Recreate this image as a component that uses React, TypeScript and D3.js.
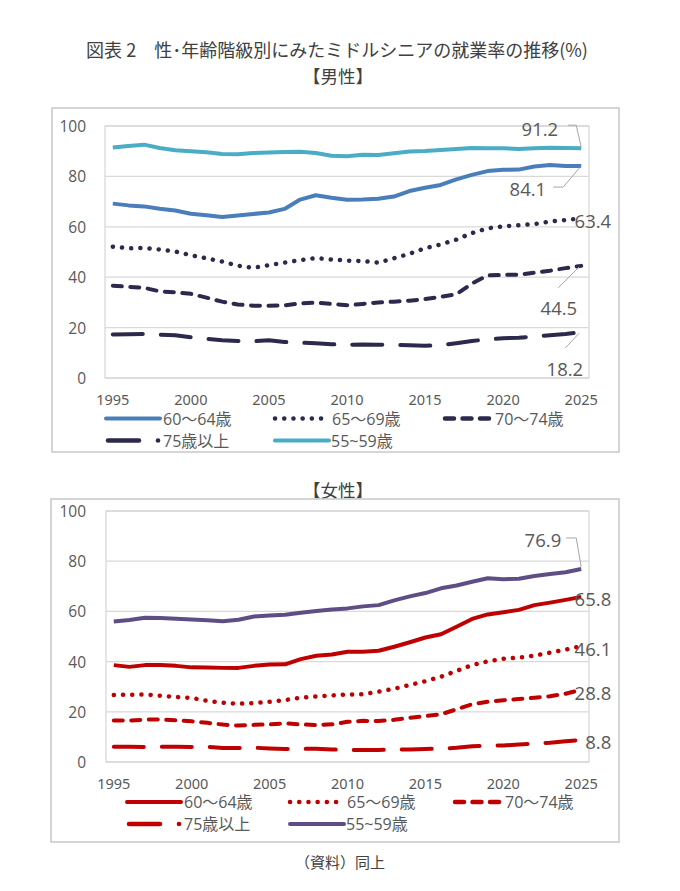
import * as d3 from 'd3';

// categories
const years = [
  1995, 1996, 1997, 1998, 1999, 2000, 2001, 2002, 2003, 2004, 2005, 2006, 2007, 2008, 2009, 2010,
  2011, 2012, 2013, 2014, 2015, 2016, 2017, 2018, 2019, 2020, 2021, 2022, 2023, 2024, 2025,
];
const xTickYears = [1995, 2000, 2005, 2010, 2015, 2020, 2025];
const yTicks = [0, 20, 40, 60, 80, 100];
const seriesNames = ['60～64歳', '65～69歳', '70～74歳', '75歳以上', '55~59歳'];

// 男性
const male6064 = [69.2, 68.5, 68.1, 67.2, 66.5, 65.2, 64.6, 63.9, 64.5, 65.1, 65.7, 67.1, 70.8, 72.5, 71.5, 70.7, 70.8, 71.1, 72.0, 74.2, 75.5, 76.6, 78.8, 80.6, 82.1, 82.6, 82.7, 83.9, 84.5, 84.1, 84.1];
const male6569 = [52.1, 51.5, 51.6, 51.0, 50.2, 48.7, 47.5, 46.2, 44.6, 43.7, 44.8, 45.8, 46.8, 47.6, 47.0, 46.6, 46.4, 45.8, 47.5, 49.3, 51.5, 53.0, 54.9, 57.5, 59.4, 60.2, 60.6, 61.1, 62.1, 62.7, 63.4];
const male7074 = [36.6, 36.2, 35.8, 34.4, 34.0, 33.4, 31.9, 30.3, 29.2, 28.7, 28.7, 28.8, 29.6, 29.9, 29.4, 28.9, 29.4, 30.0, 30.3, 30.7, 31.3, 32.2, 33.2, 37.5, 40.7, 40.9, 41.0, 41.8, 42.6, 43.6, 44.5];
const male75 = [17.3, 17.4, 17.5, 17.2, 17.0, 16.2, 15.5, 15.0, 14.7, 14.6, 15.0, 14.3, 14.0, 13.8, 13.4, 13.2, 13.3, 13.2, 13.1, 13.0, 12.8, 13.0, 13.8, 14.7, 15.3, 15.8, 16.0, 16.4, 17.0, 17.5, 18.2];
const male5559 = [91.5, 92.1, 92.6, 91.3, 90.4, 90.0, 89.6, 88.9, 88.8, 89.3, 89.5, 89.7, 89.8, 89.3, 88.2, 88.0, 88.6, 88.5, 89.2, 89.9, 90.1, 90.5, 90.9, 91.3, 91.2, 91.2, 90.9, 91.2, 91.4, 91.3, 91.2];

// 女性
const female6064 = [38.6, 37.9, 38.6, 38.6, 38.3, 37.7, 37.6, 37.5, 37.5, 38.3, 38.8, 38.9, 41.0, 42.3, 42.8, 43.9, 43.9, 44.3, 45.9, 47.7, 49.6, 50.9, 53.9, 57.0, 58.8, 59.7, 60.6, 62.5, 63.5, 64.6, 65.8];
const female6569 = [26.7, 26.8, 26.9, 26.4, 25.9, 25.5, 24.4, 23.6, 23.2, 23.5, 24.0, 24.7, 25.6, 26.1, 26.5, 26.9, 27.0, 28.0, 29.2, 30.7, 32.2, 34.0, 36.3, 38.6, 40.1, 41.1, 41.6, 42.4, 43.6, 44.8, 46.1];
const female7074 = [16.5, 16.5, 16.9, 16.9, 16.6, 16.2, 15.6, 14.9, 14.5, 14.8, 15.0, 15.4, 15.0, 14.7, 15.0, 16.0, 16.4, 16.3, 16.8, 17.6, 18.3, 19.0, 21.0, 23.0, 24.0, 24.6, 25.1, 25.6, 26.2, 27.2, 28.8];
const female75 = [6.1, 6.1, 6.0, 6.1, 6.1, 6.0, 6.0, 5.6, 5.6, 5.7, 5.4, 5.2, 5.2, 5.3, 5.0, 4.8, 4.8, 4.8, 4.9, 5.0, 5.2, 5.3, 5.7, 6.3, 6.5, 6.6, 7.0, 7.3, 7.7, 8.3, 8.8];
const female5559 = [56.0, 56.6, 57.5, 57.4, 57.1, 56.8, 56.5, 56.1, 56.7, 58.0, 58.4, 58.7, 59.5, 60.2, 60.8, 61.2, 62.0, 62.5, 64.4, 66.0, 67.3, 69.2, 70.3, 71.8, 73.2, 72.8, 73.0, 74.1, 74.9, 75.6, 76.9];

const NUM_FONT = '"Open Sans", "Noto Sans CJK JP", sans-serif';
const JP_FONT = '"Noto Sans CJK JP", sans-serif';
const TEXT_GRAY = '#595959';
const GRID = '#d9d9d9';

type LineStyle = 'solid' | 'dot' | 'dash' | 'longdash';

interface EndLabel {
  dx: number;
  dy: number;
  anchor: 'start' | 'end';
  leader?: [number, number][];
}

interface PanelProps {
  box: [number, number, number, number];
  plot: { left: number; right: number; top: number; bottom: number };
  series: number[][];
  colors: string[];
  styles: LineStyle[];
  labels: EndLabel[];
  legendCols: number[];
  legendRows: number[];
  xLabelY: number;
}

const dashFor = (s: LineStyle) =>
  s === 'dot' ? '0.1 9.1' : s === 'dash' ? '9 8.5' : s === 'longdash' ? '30 18' : undefined;

function Panel({ box, plot, series, colors, styles, labels, legendCols, legendRows, xLabelY }: PanelProps) {
  const x = d3.scaleBand<number>().domain(years).range([plot.left, plot.right]).padding(0);
  const cx = (yr: number) => (x(yr) as number) + x.bandwidth() / 2;
  const y = d3.scaleLinear().domain([0, 100]).range([plot.bottom, plot.top]);
  const line = d3
    .line<number>()
    .x((_, i) => cx(years[i]))
    .y(d => y(d));

  // legend slots: [col, row]
  const slots: [number, number][] = [[0, 0], [1, 0], [2, 0], [0, 1], [1, 1]];
  const textOffset = [57, 57, 52, 57, 56];

  return (
    <g>
      <rect x={box[0]} y={box[1]} width={box[2] - box[0]} height={box[3] - box[1]} fill="#fff" stroke="#c8c8c8" strokeWidth={1.5} />
      {yTicks.map(t => (
        <line key={t} x1={plot.left} x2={plot.right} y1={y(t)} y2={y(t)} stroke={GRID} strokeWidth={1.3} />
      ))}
      <rect x={plot.left} y={plot.top} width={plot.right - plot.left} height={plot.bottom - plot.top} fill="none" stroke={GRID} strokeWidth={1.3} />
      {yTicks.map(t => (
        <text key={t} x={86} y={y(t)} textAnchor="end" dominantBaseline="central" fontFamily={NUM_FONT} fontSize={15.5} fill={TEXT_GRAY}>
          {t}
        </text>
      ))}
      {xTickYears.map(yr => (
        <text key={yr} x={cx(yr)} y={xLabelY} textAnchor="middle" dominantBaseline="central" fontFamily='"Noto Sans", sans-serif' fontSize={14.5} fill={TEXT_GRAY}>
          {yr}
        </text>
      ))}
      {series.map((vals, i) => (
        <path
          key={i}
          d={line(vals) ?? ''}
          fill="none"
          stroke={colors[i]}
          strokeWidth={styles[i] === 'dot' ? 4.5 : 4}
          strokeDasharray={dashFor(styles[i])}
          strokeLinecap={styles[i] === 'solid' ? 'butt' : 'round'}
          strokeLinejoin="round"
        />
      ))}
      {series.map((vals, i) => {
        const last = vals[vals.length - 1];
        const px = cx(years[years.length - 1]);
        const py = y(last);
        const lb = labels[i];
        return (
          <g key={i}>
            {lb.leader && (
              <polyline points={lb.leader.map(([a, b]) => `${px + a},${py + b}`).join(' ')} fill="none" stroke="#a6a6a6" strokeWidth={1} />
            )}
            <text x={px + lb.dx} y={py + lb.dy} textAnchor={lb.anchor} dominantBaseline="central" fontFamily={NUM_FONT} fontSize={18.5} fill={TEXT_GRAY}>
              {last.toFixed(1)}
            </text>
          </g>
        );
      })}
      {seriesNames.map((name, i) => {
        const lx = legendCols[slots[i][0]];
        const ly = legendRows[slots[i][1]];
        const st = styles[i];
        let sample;
        if (st === 'solid') {
          sample = <line x1={lx} x2={lx + 54} y1={ly} y2={ly} stroke={colors[i]} strokeWidth={4} strokeLinecap="round" />;
        } else if (st === 'dot') {
          sample = <line x1={lx} x2={lx + 47} y1={ly} y2={ly} stroke={colors[i]} strokeWidth={4.5} strokeDasharray={dashFor(st)} strokeLinecap="round" />;
        } else if (st === 'dash') {
          sample = <line x1={lx + 2} x2={lx + 46} y1={ly} y2={ly} stroke={colors[i]} strokeWidth={4.5} strokeDasharray={dashFor(st)} strokeLinecap="round" />;
        } else {
          sample = (
            <g>
              <line x1={lx + 2} x2={lx + 33} y1={ly} y2={ly} stroke={colors[i]} strokeWidth={4.5} strokeLinecap="round" />
              <circle cx={lx + 52} cy={ly} r={2.3} fill={colors[i]} />
            </g>
          );
        }
        return (
          <g key={name}>
            {sample}
            <text x={lx + textOffset[i]} y={ly} dominantBaseline="central" fontFamily={NUM_FONT} fontSize={16} fill={TEXT_GRAY}>
              {name}
            </text>
          </g>
        );
      })}
    </g>
  );
}

const maleLabels: EndLabel[] = [
  { dx: -35, dy: 22, anchor: 'end', leader: [[-28, 21], [-18, 21], [-1, 1]] },
  { dx: 30, dy: 2, anchor: 'end' },
  { dx: -4, dy: 42, anchor: 'end', leader: [[-23, 22], [-2, 1]] },
  { dx: 2, dy: 36, anchor: 'end', leader: [[-16, 16], [-2, 1]] },
  { dx: -23, dy: -20, anchor: 'end', leader: [[-13, -23], [-5, -23], [0, -1]] },
];

const femaleLabels: EndLabel[] = [
  { dx: 30, dy: 2, anchor: 'end' },
  { dx: 30, dy: 2, anchor: 'end' },
  { dx: 30, dy: 3, anchor: 'end' },
  { dx: 30, dy: 2, anchor: 'end' },
  { dx: -20, dy: -29, anchor: 'end', leader: [[-15, -31], [-5, -31], [0, -2]] },
];

export default function App() {
  const navy = '#2b2a4c';
  const red = '#c00000';
  return (
    <svg width={680} height={891} style={{ position: 'absolute', left: 0, top: 0, background: '#fff' }}>
      <rect width={680} height={891} fill="#fff" />
      <text x={337} y={49} textAnchor="middle" dominantBaseline="central" fontFamily={JP_FONT} fontSize={18} fill="#404040">
        図表 2　性･年齢階級別にみたミドルシニアの就業率の推移(%)
      </text>
      <text x={338} y={75} textAnchor="middle" dominantBaseline="central" fontFamily={JP_FONT} fontSize={17.5} fill="#404040">
        【男性】
      </text>
      <Panel
        box={[52, 108, 619, 452]}
        plot={{ left: 105, right: 589, top: 126, bottom: 378 }}
        series={[male6064, male6569, male7074, male75, male5559]}
        colors={['#4a7ebb', navy, navy, navy, '#4bacc6']}
        styles={['solid', 'dot', 'dash', 'longdash', 'solid']}
        labels={maleLabels}
        legendCols={[106, 275, 443]}
        legendRows={[418.5, 440.5]}
        xLabelY={399}
      />
      <text x={338} y={489} textAnchor="middle" dominantBaseline="central" fontFamily={JP_FONT} fontSize={17.5} fill="#404040">
        【女性】
      </text>
      <Panel
        box={[51, 499, 619, 842]}
        plot={{ left: 106, right: 589, top: 511, bottom: 762 }}
        series={[female6064, female6569, female7074, female75, female5559]}
        colors={[red, red, red, red, '#5f4e86']}
        styles={['solid', 'dot', 'dash', 'longdash', 'solid']}
        labels={femaleLabels}
        legendCols={[127, 290, 453]}
        legendRows={[802, 824]}
        xLabelY={783}
      />
      <text x={340} y={861} textAnchor="middle" dominantBaseline="central" fontFamily={JP_FONT} fontSize={15} fill="#404040">
        （資料）同上
      </text>
    </svg>
  );
}
